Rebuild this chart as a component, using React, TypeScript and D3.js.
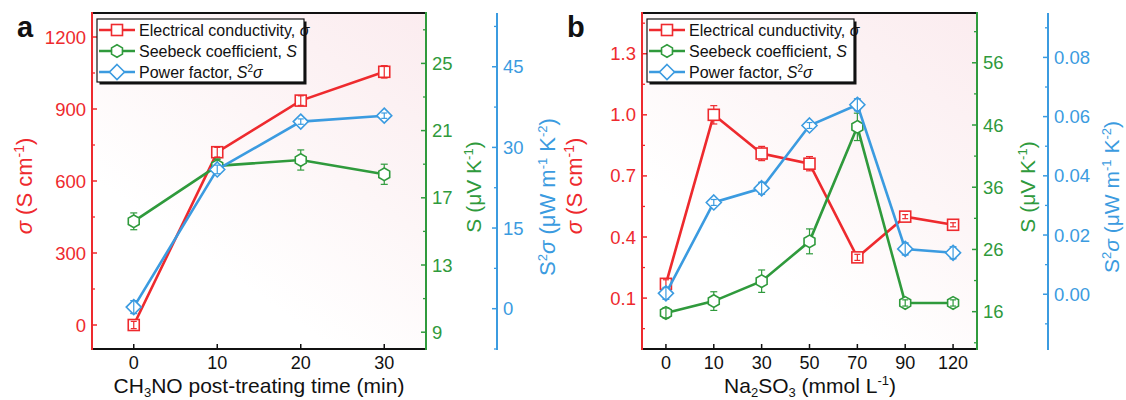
import React from "react";
import * as d3 from "d3";

// ---------- data ----------
const timeA = [0, 10, 20, 30];
const sigmaA = [0, 720, 935, 1055];
const sigmaAErr = [15, 20, 20, 25];
const seebeckA = [15.6, 18.9, 19.25, 18.4];
const seebeckAErr = [0.5, 0.4, 0.6, 0.6];
const pfA = [0.3, 25.9, 34.8, 35.9];
const pfAErr = [1.2, 0.8, 0.5, 0.5];

const concB = ["0", "10", "30", "50", "70", "90", "120"];
const sigmaB = [0.17, 1.0, 0.81, 0.76, 0.3, 0.5, 0.46];
const sigmaBErr = [0.02, 0.045, 0.035, 0.035, 0.015, 0.01, 0.01];
const seebeckB = [15.8, 17.7, 20.9, 27.3, 45.7, 17.4, 17.4];
const seebeckBErr = [0.8, 1.5, 1.8, 2.0, 2.2, 0.5, 0.5];
const pfB = [0.0003, 0.031, 0.0358, 0.057, 0.064, 0.0153, 0.014];
const pfBErr = [0.002, 0.001, 0.002, 0.001, 0.002, 0.002, 0.002];

const sigmaATicks = [0, 300, 600, 900, 1200];
const sigmaAMinor = [150, 450, 750, 1050];
const seebeckATicks = [9, 13, 17, 21, 25];
const seebeckAMinor = [11, 15, 19, 23, 27];
const pfATicks = [0, 15, 30, 45];
const pfAMinor = [-7.5, 7.5, 22.5, 37.5, 52.5];

const sigmaBTicks = [0.1, 0.4, 0.7, 1.0, 1.3];
const sigmaBMinor = [-0.05, 0.25, 0.55, 0.85, 1.15, 1.45];
const seebeckBTicks = [16, 26, 36, 46, 56];
const seebeckBMinor = [11, 21, 31, 41, 51, 61];
const pfBTicks = [0, 0.02, 0.04, 0.06, 0.08];
const pfBMinor = [-0.01, 0.01, 0.03, 0.05, 0.07, 0.09];

const RED = "#ee2a2e";
const GREEN = "#2f9a3c";
const BLUE = "#3b9be0";
const FONT = "Liberation Sans, Arial, sans-serif";

type Props = {
  id: string;
  label: string;
  left: number;
  right: number;
  blueX: number;
  xs: number[];
  xDomain: [number, number];
  xTickLabels: string[];
  sigma: number[];
  sigmaErr: number[];
  seebeck: number[];
  seebeckErr: number[];
  pf: number[];
  pfErr: number[];
  sigmaDomain: [number, number];
  seebeckDomain: [number, number];
  pfDomain: [number, number];
  sigmaTicks: number[];
  sigmaMinor: number[];
  seebeckTicks: number[];
  seebeckMinor: number[];
  pfTicks: number[];
  pfMinor: number[];
  sigmaFmt: (v: number) => string;
  pfFmt: (v: number) => string;
  condText: string;
  xTitle: React.ReactNode;
  xTitleX: number;
  greenOff: number;
  blueOff: number;
  blueFont: number;
};

const TOP = 13;
const BOTTOM = 349;

function Hexagon({ x, y, r, color }: { x: number; y: number; r: number; color: string }) {
  const pts = d3.range(6).map((i) => {
    const a = (Math.PI / 3) * i - Math.PI / 2;
    return [x + r * Math.cos(a), y + r * Math.sin(a)];
  });
  return <polygon points={pts.map((p) => p.join(",")).join(" ")} fill="white" stroke={color} strokeWidth={1.6} />;
}

function Marker({ kind, x, y, color }: { kind: string; x: number; y: number; color: string }) {
  if (kind === "square")
    return <rect x={x - 5.5} y={y - 5.5} width={11} height={11} fill="white" stroke={color} strokeWidth={1.6} />;
  if (kind === "hex") return <Hexagon x={x} y={y} r={6.3} color={color} />;
  const r = 7.5;
  return (
    <polygon
      points={`${x},${y - r} ${x + r},${y} ${x},${y + r} ${x - r},${y}`}
      fill="white"
      stroke={color}
      strokeWidth={1.6}
    />
  );
}

function ErrBar({ x, y1, y2, color, w }: { x: number; y1: number; y2: number; color: string; w: number }) {
  return (
    <g>
      <line x1={x} x2={x} y1={y1} y2={y2} stroke={color} strokeWidth={1.2} />
      <line x1={x - w} x2={x + w} y1={y1} y2={y1} stroke={color} strokeWidth={1.2} />
      <line x1={x - w} x2={x + w} y1={y2} y2={y2} stroke={color} strokeWidth={1.2} />
    </g>
  );
}

function Series({
  xs, ys, errs, sx, sy, color, kind,
}: {
  xs: number[]; ys: number[]; errs: number[]; sx: (v: number) => number; sy: d3.ScaleLinear<number, number>;
  color: string; kind: string;
}) {
  const line = d3
    .line<number>()
    .x((_, i) => sx(xs[i]))
    .y((d) => sy(d));
  return (
    <g>
      <path d={line(ys) || ""} fill="none" stroke={color} strokeWidth={2.6} />
      {ys.map((v, i) => (
        <ErrBar key={"b" + i} x={sx(xs[i])} y1={sy(v + errs[i])} y2={sy(v - errs[i])} color={color} w={3.5} />
      ))}
      {ys.map((v, i) => (
        <Marker key={"m" + i} kind={kind} x={sx(xs[i])} y={sy(v)} color={color} />
      ))}
      {ys.map((v, i) => {
        const e = Math.abs(sy(v - errs[i]) - sy(v));
        return e < 7 ? (
          <ErrBar key={"e" + i} x={sx(xs[i])} y1={sy(v + errs[i])} y2={sy(v - errs[i])} color={color} w={3} />
        ) : null;
      })}
    </g>
  );
}

function Panel(p: Props) {
  const sx = d3.scaleLinear().domain(p.xDomain).range([p.left, p.right]);
  const sSig = d3.scaleLinear().domain(p.sigmaDomain).range([BOTTOM, TOP]);
  const sSee = d3.scaleLinear().domain(p.seebeckDomain).range([BOTTOM, TOP]);
  const sPf = d3.scaleLinear().domain(p.pfDomain).range([BOTTOM, TOP]);
  const midY = (TOP + BOTTOM) / 2;
  const legX = p.left + 5;
  const legY = 19;
  const legW = 207;
  const legH = 63;
  const rows = [
    { kind: "square", color: RED, text: <>{p.condText}, <tspan fontStyle="italic">σ</tspan></> },
    { kind: "hex", color: GREEN, text: <>Seebeck coefficient, <tspan fontStyle="italic">S</tspan></> },
    {
      kind: "diamond",
      color: BLUE,
      text: (
        <>
          Power factor, <tspan fontStyle="italic">S</tspan>
          <tspan dy={-6} fontSize={10}>2</tspan>
          <tspan dy={6} fontStyle="italic">σ</tspan>
        </>
      ),
    },
  ];
  return (
    <g fontFamily={FONT}>
      <defs>
        <linearGradient id={p.id + "bg"} x1="1" y1="0" x2="0.3" y2="1">
          <stop offset="0" stopColor="#fbecef" />
          <stop offset="0.45" stopColor="#fdf6f7" />
          <stop offset="0.8" stopColor="#ffffff" />
        </linearGradient>
      </defs>
      <rect x={p.left} y={TOP} width={p.right - p.left} height={BOTTOM - TOP} fill={`url(#${p.id}bg)`} />
      {/* frame */}
      <line x1={p.left} x2={p.right} y1={TOP} y2={TOP} stroke="#111" strokeWidth={2} />
      <line x1={p.left} x2={p.right} y1={BOTTOM} y2={BOTTOM} stroke="#111" strokeWidth={2} />
      <line x1={p.left} x2={p.left} y1={TOP - 1} y2={BOTTOM + 1} stroke={RED} strokeWidth={2} />
      <line x1={p.right} x2={p.right} y1={TOP - 1} y2={BOTTOM + 1} stroke={GREEN} strokeWidth={2} />
      <line x1={p.blueX} x2={p.blueX} y1={TOP} y2={BOTTOM + 1} stroke={BLUE} strokeWidth={2} />

      {/* x ticks */}
      {p.xs.map((v, i) => (
        <g key={"xt" + i}>
          <line x1={sx(v)} x2={sx(v)} y1={BOTTOM} y2={BOTTOM - 5} stroke="#111" strokeWidth={1.5} />
          <text x={sx(v)} y={369} textAnchor="middle" fontSize={18} fill="#111">
            {p.xTickLabels[i]}
          </text>
        </g>
      ))}
      {/* sigma axis */}
      {p.sigmaTicks.map((v) => (
        <g key={"st" + v}>
          <line x1={p.left} x2={p.left + 5} y1={sSig(v)} y2={sSig(v)} stroke={RED} strokeWidth={1.5} />
          <text x={p.left - 6} y={sSig(v) + 6.5} textAnchor="end" fontSize={18.5} fill={RED}>
            {p.sigmaFmt(v)}
          </text>
        </g>
      ))}
      {p.sigmaMinor.map((v) => (
        <line key={"sm" + v} x1={p.left} x2={p.left + 3} y1={sSig(v)} y2={sSig(v)} stroke={RED} strokeWidth={1.3} />
      ))}
      {/* seebeck axis */}
      {p.seebeckTicks.map((v) => (
        <g key={"gt" + v}>
          <line x1={p.right} x2={p.right - 5} y1={sSee(v)} y2={sSee(v)} stroke={GREEN} strokeWidth={1.5} />
          <text x={p.right + 6} y={sSee(v) + 6.5} textAnchor="start" fontSize={18.5} fill={GREEN}>
            {v}
          </text>
        </g>
      ))}
      {p.seebeckMinor.map((v) => (
        <line key={"gm" + v} x1={p.right} x2={p.right - 3} y1={sSee(v)} y2={sSee(v)} stroke={GREEN} strokeWidth={1.3} />
      ))}
      {/* pf axis */}
      {p.pfTicks.map((v) => (
        <g key={"bt" + v}>
          <line x1={p.blueX} x2={p.blueX - 5} y1={sPf(v)} y2={sPf(v)} stroke={BLUE} strokeWidth={1.5} />
          <text x={p.blueX + 6} y={sPf(v) + 6.5} textAnchor="start" fontSize={18.5} fill={BLUE}>
            {p.pfFmt(v)}
          </text>
        </g>
      ))}
      {p.pfMinor.map((v) => (
        <line key={"bm" + v} x1={p.blueX} x2={p.blueX - 3} y1={sPf(v)} y2={sPf(v)} stroke={BLUE} strokeWidth={1.3} />
      ))}

      {/* axis titles */}
      <text transform={`translate(${p.left - 60},${midY + 5}) rotate(-90)`} textAnchor="middle" fontSize={22} fill={RED}>
        <tspan fontStyle="italic">σ</tspan> (S cm<tspan dy={-8} fontSize={14}>-1</tspan><tspan dy={8}>)</tspan>
      </text>
      <text transform={`translate(${p.right + p.greenOff},${midY + 6}) rotate(-90)`} textAnchor="middle" fontSize={21} fill={GREEN}>
        S (μV K<tspan dy={-8} fontSize={13}>-1</tspan><tspan dy={8}>)</tspan>
      </text>
      <text transform={`translate(${p.blueX + p.blueOff},${midY + 16}) rotate(-90)`} textAnchor="middle" fontSize={p.blueFont} fill={BLUE}>
        S<tspan dy={-8} fontSize={13}>2</tspan><tspan dy={8} fontStyle="italic">σ</tspan> (μW m<tspan dy={-8} fontSize={13}>-1</tspan><tspan dy={8}> K</tspan><tspan dy={-8} fontSize={13}>-2</tspan><tspan dy={8}>)</tspan>
      </text>
      <text x={p.xTitleX} y={393} textAnchor="middle" fontSize={21} fill="#111">
        {p.xTitle}
      </text>
      <text x={p.left - 75} y={37} fontSize={29} fontWeight="bold" fill="#111">
        {p.label}
      </text>

      {/* series */}
      <Series xs={p.xs} ys={p.sigma} errs={p.sigmaErr} sx={sx} sy={sSig} color={RED} kind="square" />
      <Series xs={p.xs} ys={p.seebeck} errs={p.seebeckErr} sx={sx} sy={sSee} color={GREEN} kind="hex" />
      <Series xs={p.xs} ys={p.pf} errs={p.pfErr} sx={sx} sy={sPf} color={BLUE} kind="diamond" />

      {/* legend */}
      <rect x={legX + 2.5} y={legY + 2.5} width={legW} height={legH} fill="#111" />
      <rect x={legX} y={legY} width={legW} height={legH} fill="white" stroke="#111" strokeWidth={1.2} />
      {rows.map((r, i) => {
        const y = legY + 11 + i * 21;
        return (
          <g key={"lg" + i}>
            <line x1={legX + 2} x2={legX + 38} y1={y} y2={y} stroke={r.color} strokeWidth={2.6} />
            <Marker kind={r.kind} x={legX + 20} y={y} color={r.color} />
            <text x={legX + 42} y={y + 5.5} fontSize={16} fill="#111">
              {r.text}
            </text>
          </g>
        );
      })}
    </g>
  );
}

export default function App() {
  const idxB = concB.map((_, i) => i);
  return (
    <svg width={1126} height={400} style={{ position: "absolute", left: 0, top: 0, background: "white" }}>
      <Panel
        id="a"
        label="a"
        left={92}
        right={426}
        blueX={497}
        xs={timeA}
        xDomain={[-5, 35]}
        xTickLabels={timeA.map(String)}
        sigma={sigmaA}
        sigmaErr={sigmaAErr}
        seebeck={seebeckA}
        seebeckErr={seebeckAErr}
        pf={pfA}
        pfErr={pfAErr}
        sigmaDomain={[-100, 1300]}
        seebeckDomain={[8, 28]}
        pfDomain={[-7.5, 55]}
        sigmaTicks={sigmaATicks}
        sigmaMinor={sigmaAMinor}
        seebeckTicks={seebeckATicks}
        seebeckMinor={seebeckAMinor}
        pfTicks={pfATicks}
        pfMinor={pfAMinor}
        sigmaFmt={(v) => String(v)}
        pfFmt={(v) => String(v)}
        condText="Electrical conductivity"
        xTitle={<>CH<tspan dy={4} fontSize={13}>3</tspan><tspan dy={-4}>NO post-treating time (min)</tspan></>}
        xTitleX={259}
        greenOff={55}
        blueOff={58}
        blueFont={22}
      />
      <Panel
        id="b"
        label="b"
        left={642}
        right={977}
        blueX={1048}
        xs={idxB}
        xDomain={[-0.5, 6.5]}
        xTickLabels={concB}
        sigma={sigmaB}
        sigmaErr={sigmaBErr}
        seebeck={seebeckB}
        seebeckErr={seebeckBErr}
        pf={pfB}
        pfErr={pfBErr}
        sigmaDomain={[-0.15, 1.5]}
        seebeckDomain={[10, 64]}
        pfDomain={[-0.0185, 0.095]}
        sigmaTicks={sigmaBTicks}
        sigmaMinor={sigmaBMinor}
        seebeckTicks={seebeckBTicks}
        seebeckMinor={seebeckBMinor}
        pfTicks={pfBTicks}
        pfMinor={pfBMinor}
        sigmaFmt={(v) => v.toFixed(1)}
        pfFmt={(v) => v.toFixed(2)}
        condText="Electrical cunductivity"
        xTitle={<>Na<tspan dy={4} fontSize={13}>2</tspan><tspan dy={-4}>SO</tspan><tspan dy={4} fontSize={13}>3</tspan><tspan dy={-4}> (mmol L</tspan><tspan dy={-8} fontSize={13}>-1</tspan><tspan dy={8}>)</tspan></>}
        xTitleX={810}
        greenOff={58}
        blueOff={71}
        blueFont={21}
      />
    </svg>
  );
}
